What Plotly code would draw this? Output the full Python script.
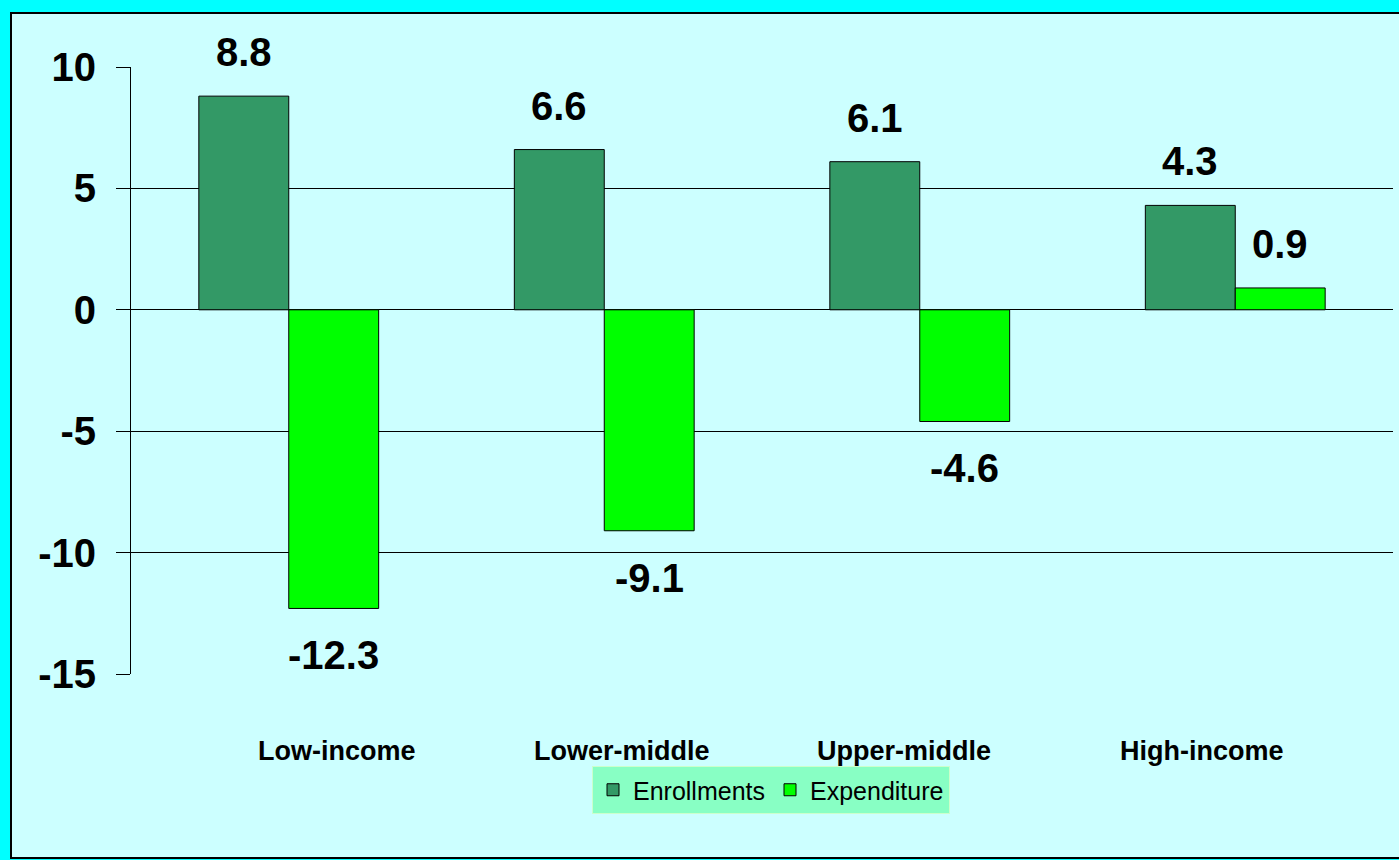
import plotly.graph_objects as go

categories = ["Low-income", "Lower-middle", "Upper-middle", "High-income"]
enrollments = [8.8, 6.6, 6.1, 4.3]
expenditure = [-12.3, -9.1, -4.6, 0.9]
y_ticks = [10, 5, 0, -5, -10, -15]

FONT = "Arial, Liberation Sans, Helvetica, sans-serif"
W, H = 1399, 860
L, R, T, B = 131, 6, 67, 186
pw, ph = W - L - R, H - T - B

fig = go.Figure()
fig.add_trace(go.Bar(x=categories, y=enrollments, name="Enrollments",
                     marker=dict(color="#339966", line=dict(color="black", width=1))))
fig.add_trace(go.Bar(x=categories, y=expenditure, name="Expenditure",
                     marker=dict(color="#00FF00", line=dict(color="black", width=1))))

annotations = []
for i, c in enumerate(categories):
    for v, xs in ((enrollments[i], -45), (expenditure[i], 45)):
        annotations.append(dict(x=c, y=v, xref="x", yref="y", text=f"<b>{v}</b>",
                                showarrow=False, xshift=xs, yshift=(44 if v > 0 else -47),
                                yanchor="middle",
                                font=dict(family=FONT, size=40, color="black")))
label_shifts = [48, 18, -16, -33]
for c, s in zip(categories, label_shifts):
    annotations.append(dict(x=c, y=(T + ph - 751) / ph, xref="x", yref="paper",
                            text=f"<b>{c}</b>", showarrow=False, xshift=s,
                            yanchor="middle",
                            font=dict(family=FONT, size=27, color="black")))

fig.update_layout(
    width=W, height=H,
    margin=dict(l=L, r=R, t=T, b=B),
    paper_bgcolor="#00FFFF",
    plot_bgcolor="rgba(0,0,0,0)",
    barmode="group", bargap=0.43, bargroupgap=0,
    showlegend=True,
    legend=dict(orientation="h", x=(771 - L) / pw, xanchor="center",
                y=(T + ph - 766) / ph, yanchor="top",
                bgcolor="#88FFC4", bordercolor="#CCFFCC", borderwidth=1,
                font=dict(family=FONT, size=25, color="black")),
    annotations=annotations,
    shapes=[dict(type="rect", xref="paper", yref="paper", layer="below",
                 x0=(11 - L) / pw, x1=(W + 5 - L) / pw,
                 y0=-(858 - T - ph) / ph, y1=1 + (T - 13) / ph,
                 fillcolor="#CCFFFF", line=dict(color="black", width=2))],
    xaxis=dict(showticklabels=False, showgrid=False, showline=False, ticks="",
               zeroline=False),
    yaxis=dict(range=[-15, 10], tickvals=y_ticks, ticktext=[f"<b>{t}</b>" for t in y_ticks],
               showgrid=True, gridcolor="black", gridwidth=1,
               zeroline=True, zerolinecolor="black", zerolinewidth=1,
               showline=True, linecolor="black", linewidth=1,
               ticks="outside", ticklen=14, tickcolor="black",
               ticklabelstandoff=12,
               tickfont=dict(family=FONT, size=40, color="black")),
)

fig.write_html("out.html", config={"displayModeBar": False},
               post_script="document.body.style.margin='0';document.body.style.padding='0';"
                           "document.body.style.background='#00FFFF';"
                           "document.body.style.overflow='hidden';")
